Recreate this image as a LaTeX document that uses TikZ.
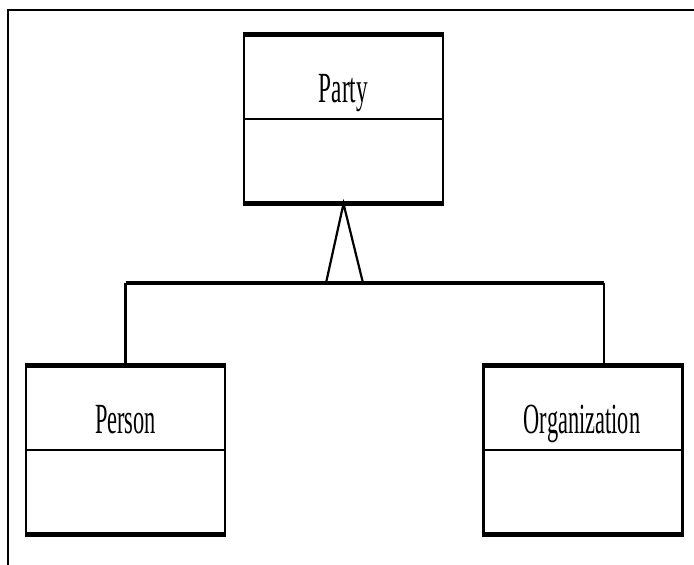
\documentclass[tikz,border=0pt]{standalone}
\usepackage{graphicx}
\usepackage{fontspec}
\setmainfont{Liberation Serif}
\begin{document}
\begin{tikzpicture}[x=1pt,y=-1pt,
  classbox/.style={draw,line width=2.4pt,minimum width=199pt,minimum height=167pt,inner sep=0pt},
  classname/.style={anchor=base,inner sep=0pt,font=\fontsize{43}{43}\selectfont},
  edge/.style={line width=2.2pt},
  heavy/.style={line width=4.5pt}]
\useasboundingbox (0,0) rectangle (694,565);
% outer frame (only top and left visible)
\draw[line width=2.4pt] (8,575) -- (8,10) -- (704,10);
% Party
\node[classbox] (party) at (343.5,119) {};
\node[classname] (partyname) at (343.5,102) {\scalebox{0.54}[1]{Party}};
\draw[edge] (party.west |- 0,119) -- (party.east |- 0,119);
\draw[heavy] (party.north west) -- (party.north east);
\draw[heavy] (party.south west) -- (party.south east);
% Person
\node[classbox] (person) at (125.5,450) {};
\node[classname] (personname) at (125.5,433) {\scalebox{0.52}[1]{Person}};
\draw[edge] (person.west |- 0,450) -- (person.east |- 0,450);
\draw[heavy] (person.north west) -- (person.north east);
\draw[heavy] (person.south west) -- (person.south east);
% Organization
\node[classbox] (org) at (583,450) {};
\node[classname] (orgname) at (582,433) {\scalebox{0.52}[1]{Organization}};
\draw[edge] (org.west |- 0,450) -- (org.east |- 0,450);
\draw[heavy] (org.north west) -- (org.north east);
\draw[heavy] (org.south west) -- (org.south east);
% generalization
\coordinate (apex) at (party.south);
\coordinate (bl) at (326,283);
\coordinate (br) at (363,283);
\coordinate (jl) at (person.north |- bl);
\coordinate (jr) at (604,283);
\draw[edge,line join=miter] (bl) -- (apex) -- (br);
\draw[line width=3.2pt] (jl) -- (jr);
\draw[edge] (jl) -- (person.north);
\draw[edge] (jr) -- (jr |- org.north);
\end{tikzpicture}
\end{document}
